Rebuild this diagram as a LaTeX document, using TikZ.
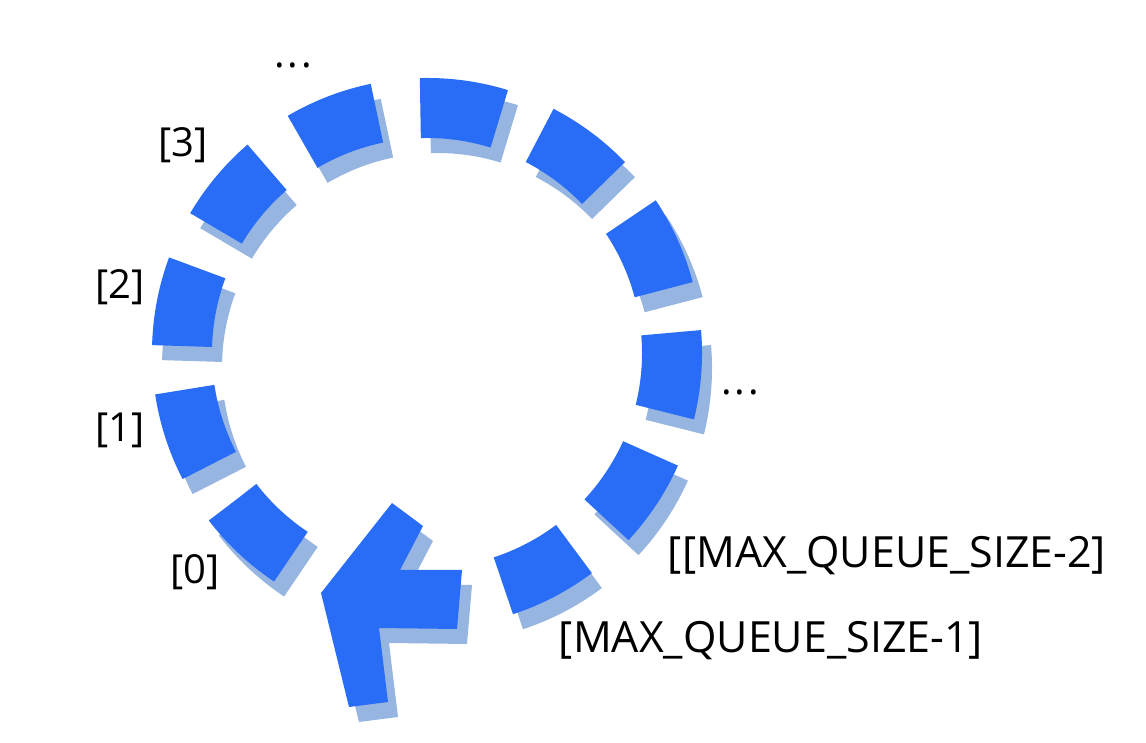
\documentclass[tikz,border=0pt]{standalone}
\usepackage{fontspec}
\setmainfont{Open Sans}
\usepackage{tikz}
\usetikzlibrary{calc}
\definecolor{ringblue}{RGB}{41,108,246}
\definecolor{ringshadow}{RGB}{150,181,224}

\begin{document}
\begin{tikzpicture}[x=1pt, y=1pt,
    ring/.style={line width=60pt, dash pattern=on 80pt off 43.75pt},
    idx/.style={font=\fontsize{40}{48}\selectfont, inner sep=0pt},
    bigidx/.style={font=\fontsize{43}{50}\selectfont, inner sep=0pt}]
  \useasboundingbox (0,0) rectangle (1146,742);
  \coordinate (c) at (427,389);

  % shadow
  \draw[ring, ringshadow] ($(c)+(10,-15)$) ++(236.25:245)
    arc[start angle=236.25, end angle=-71.85, radius=245];
  \fill[ringshadow, shift={(10,-15)}] (321,149) -- (392,239) -- (423,216) -- (400,172)
    -- (462,172) -- (457,113) -- (379,114) -- (388,40) -- (349,35) -- cycle;

  % ring and arrow head
  \draw[ring, ringblue] (c) ++(236.25:245)
    arc[start angle=236.25, end angle=-71.85, radius=245];
  \fill[ringblue] (321,149) -- (392,239) -- (423,216) -- (400,172)
    -- (462,172) -- (457,113) -- (379,114) -- (388,40) -- (349,35) -- cycle;

  % labels
  \node[idx] (dotstop) at (293,677) {.\kern3pt.\kern3pt.};
  \node[idx] (idx3) at (183,597) {[3]};
  \node[idx] (idx2) at (120,455) {[2]};
  \node[idx] (idx1) at (120,312) {[1]};
  \node[idx] (idx0) at (195,170) {[0]};
  \node[idx] (dotsright) at (740,350) {.\kern3pt.\kern3pt.};
  \node[bigidx] (idxsecond) at (887,186) {[[MAX\_QUEUE\_SIZE-2]};
  \node[bigidx] (idxlast) at (771,101) {[MAX\_QUEUE\_SIZE-1]};
\end{tikzpicture}
\end{document}
